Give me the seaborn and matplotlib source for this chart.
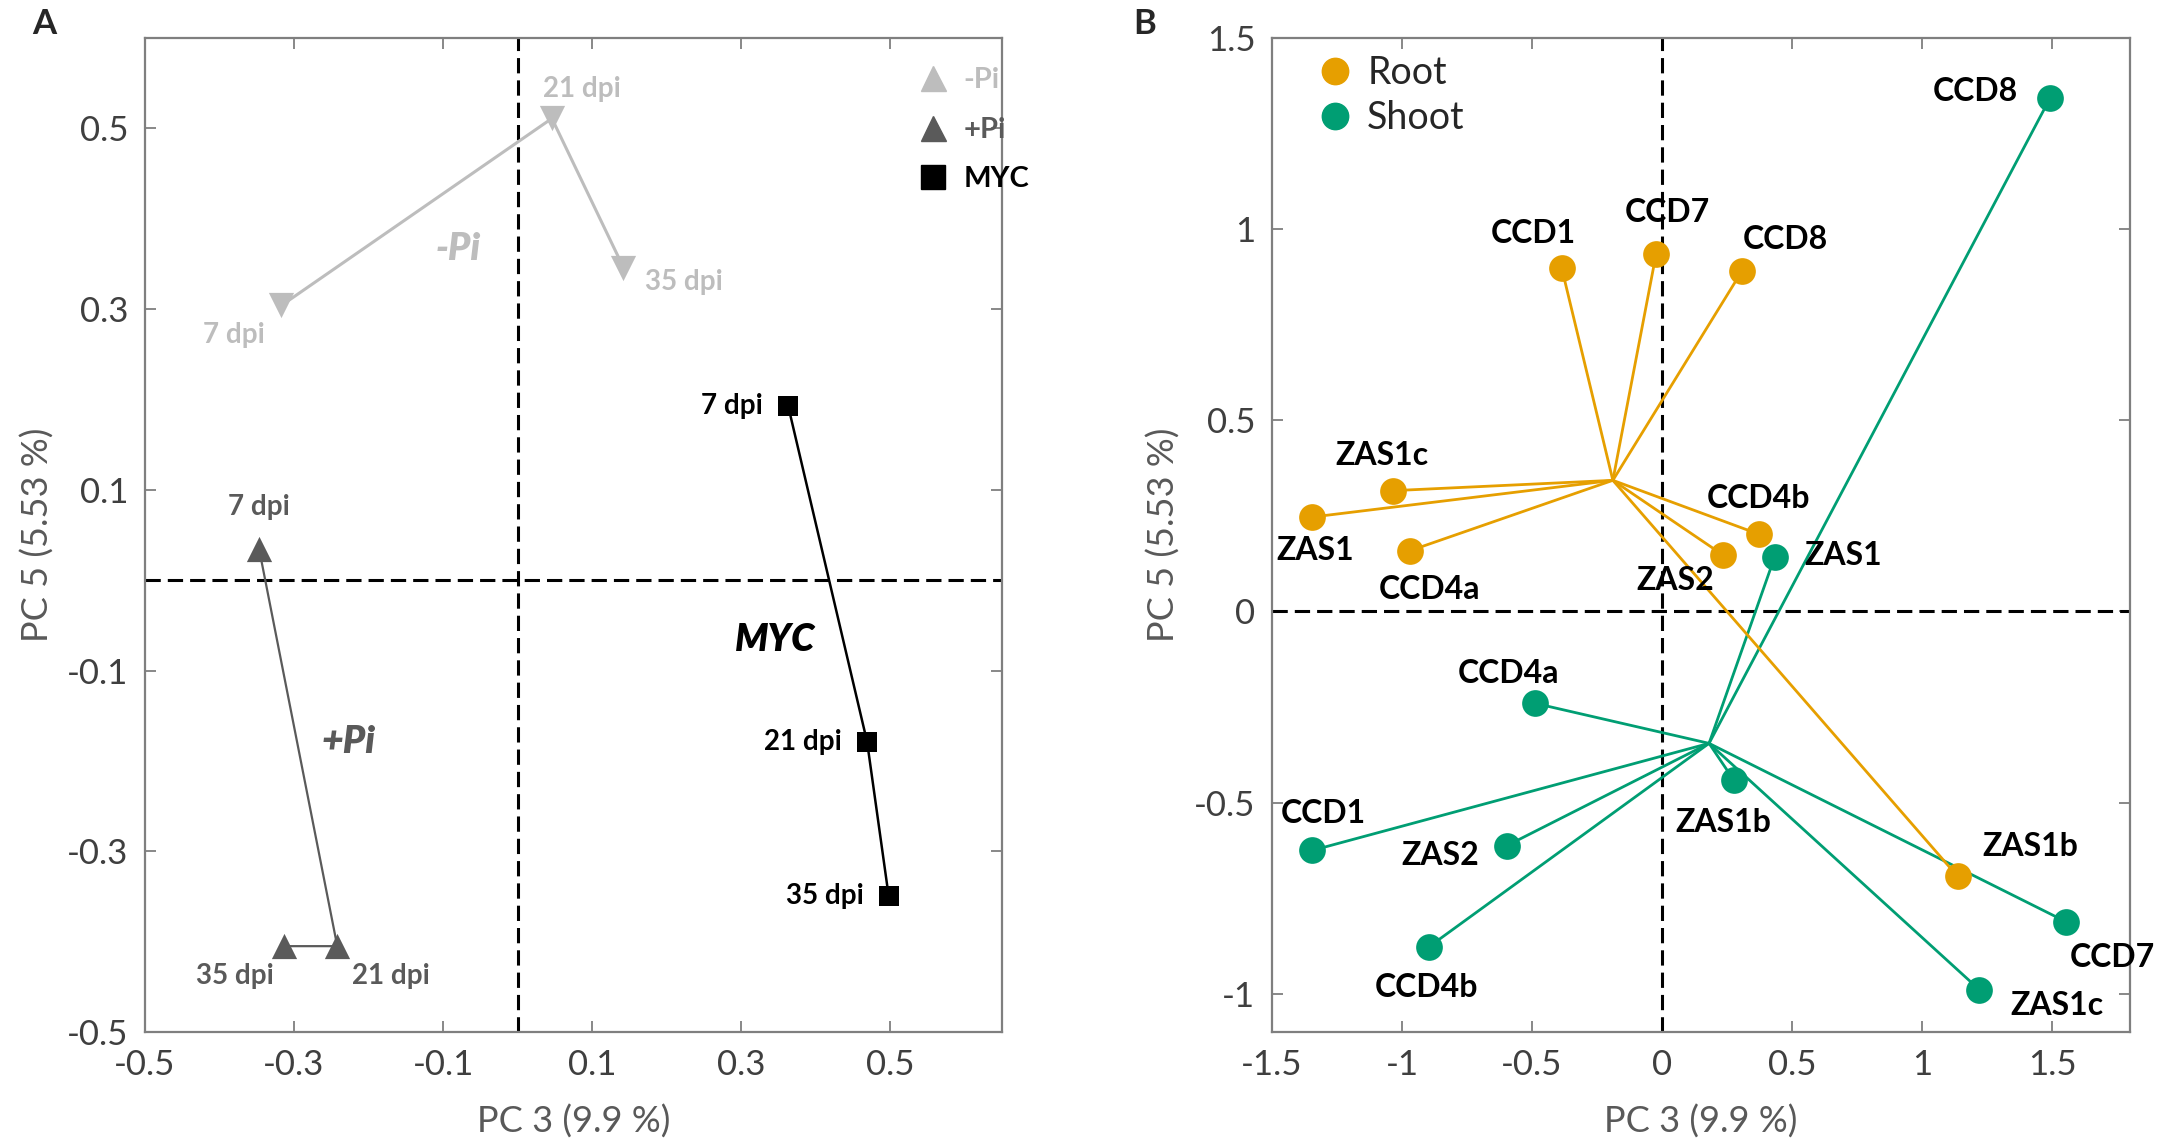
import matplotlib
matplotlib.use("Agg")
import matplotlib.pyplot as plt
import numpy as np
import pandas as pd
import seaborn as sns
from matplotlib.lines import Line2D
from matplotlib.font_manager import FontProperties

sns.set_theme(style="white")
plt.rcParams["font.family"] = ["Lato", "DejaVu Sans"]

# ---------------- Panel A data ----------------
dpi_labels = ["7 dpi", "21 dpi", "35 dpi"]
minus_pi_x = [-0.317, 0.046, 0.142]
minus_pi_y = [0.304, 0.511, 0.346]
plus_pi_x = [-0.347, -0.242, -0.314]
plus_pi_y = [0.035, -0.405, -0.405]
myc_x = [0.363, 0.469, 0.498]
myc_y = [0.193, -0.179, -0.350]
group_names = ["-Pi", "+Pi", "MYC"]
group_label_x = [-0.080, -0.227, 0.345]
group_label_y = [0.367, -0.179, -0.066]

# ---------------- Panel B data ----------------
root_genes = ["CCD1", "CCD7", "CCD8", "ZAS1c", "ZAS1", "CCD4a", "CCD4b", "ZAS2", "ZAS1b"]
root_x = [-0.386, -0.023, 0.308, -1.034, -1.345, -0.969, 0.373, 0.236, 1.137]
root_y = [0.899, 0.934, 0.891, 0.316, 0.247, 0.159, 0.202, 0.147, -0.693]
root_origin = [-0.189, 0.343]

shoot_genes = ["CCD8", "ZAS1", "CCD4a", "ZAS1b", "CCD1", "ZAS2", "CCD4b", "CCD7", "ZAS1c"]
shoot_x = [1.492, 0.433, -0.490, 0.275, -1.345, -0.598, -0.896, 1.552, 1.220]
shoot_y = [1.342, 0.142, -0.240, -0.440, -0.625, -0.613, -0.877, -0.811, -0.989]
shoot_origin = [0.181, -0.345]

# ---------------- styles ----------------
LIGHT = "#BDBDBD"
DARK = "#5A5A5A"
BLACK = "#000000"
ORANGE = "#E69F00"
GREEN = "#009E73"
SPINE = "#7F7F7F"
TICKLAB = "#3F3F3F"
AXLAB = "#595959"
PX = 0.72  # px -> pt at dpi 100

# label offsets (px) for panel A
offA_minus = [(-47, -30), (30, 29), (60, -14)]
offA_plus = [(0, 42), (54, -30), (-49, -30)]
offA_myc = [(-25, 0), (-25, 0), (-25, 0)]
# label offsets (px) for panel B
offB_root = [(-28, 34), (11, 42), (43, 31), (-11, 35), (3, -33), (19, -39), (0, 36), (-48, -25), (73, 30)]
offB_shoot = [(-75, 7), (69, 2), (-26, 30), (-10, -43), (11, 37), (-66, -10), (-3, -41), (47, -36), (78, -16)]

fig = plt.figure(figsize=(21.75, 11.44), dpi=100)
axA = fig.add_axes([145 / 2175, 1 - 1032 / 1144, 857 / 2175, 994 / 1144])
axB = fig.add_axes([1272 / 2175, 1 - 1032 / 1144, 858 / 2175, 994 / 1144])


def style_axes(ax):
    for s in ax.spines.values():
        s.set_color(SPINE)
        s.set_linewidth(1.6)
        s.set_visible(True)
    ax.tick_params(direction="in", length=8, width=1.3, color=SPINE,
                   top=True, right=True, bottom=True, left=True,
                   labelsize=25, labelcolor=TICKLAB, pad=12)
    ax.grid(False)


# ---------------- Panel A ----------------
dfA = pd.DataFrame({
    "x": minus_pi_x + plus_pi_x + myc_x,
    "y": minus_pi_y + plus_pi_y + myc_y,
    "group": [g for g in group_names for _ in range(3)],
    "dpi": dpi_labels * 3,
})
axA.axhline(0, color="black", lw=2.2, ls=(0, (5, 2.3)), zorder=1)
axA.axvline(0, color="black", lw=2.2, ls=(0, (5, 2.3)), zorder=1)

colorsA = {"-Pi": LIGHT, "+Pi": DARK, "MYC": BLACK}
markersA = {"-Pi": "v", "+Pi": "^", "MYC": "s"}
sizesA = {"-Pi": 330, "+Pi": 330, "MYC": 200}
lwA = {"-Pi": 2.2, "+Pi": 1.6, "MYC": 1.8}
for g in group_names:
    sub = dfA[dfA.group == g]
    sns.lineplot(data=sub, x="x", y="y", sort=False, estimator=None,
                 color=colorsA[g], lw=lwA[g], ax=axA, zorder=2, legend=False)
    sns.scatterplot(data=sub, x="x", y="y", marker=markersA[g], s=sizesA[g],
                    color=colorsA[g], edgecolor=colorsA[g], linewidth=0,
                    ax=axA, zorder=3, legend=False)

for g, offs in zip(group_names, [offA_minus, offA_plus, offA_myc]):
    sub = dfA[dfA.group == g]
    for (x, y, t), (dx, dy) in zip(sub[["x", "y", "dpi"]].values, offs):
        axA.annotate(t, (x, y), xytext=(dx * PX, dy * PX), textcoords="offset points",
                     ha="right" if g == "MYC" else "center", va="center",
                     fontsize=20, fontweight="bold", color=colorsA[g], zorder=4)

for g, gx, gy in zip(group_names, group_label_x, group_label_y):
    axA.text(gx, gy, g, fontsize=27, fontweight="heavy", style="italic",
             color=colorsA[g], ha="center", va="center")

axA.set_xlim(-0.5, 0.65)
axA.set_ylim(-0.5, 0.6)
axA.set_xticks([-0.5, -0.3, -0.1, 0.1, 0.3, 0.5])
axA.set_yticks([-0.5, -0.3, -0.1, 0.1, 0.3, 0.5])
axA.set_xticklabels(["-0.5", "-0.3", "-0.1", "0.1", "0.3", "0.5"])
axA.set_yticklabels(["-0.5", "-0.3", "-0.1", "0.1", "0.3", "0.5"])
style_axes(axA)
axA.set_xlabel("PC 3 (9.9 %)", fontsize=26, color=AXLAB)
axA.set_ylabel("PC 5 (5.53 %)", fontsize=26, color=AXLAB)
axA.xaxis.set_label_coords(0.5, -0.073)
axA.yaxis.set_label_coords(-0.105, 0.5)

handlesA = [
    Line2D([], [], ls="none", marker="^", ms=18, color=LIGHT, mec=LIGHT),
    Line2D([], [], ls="none", marker="^", ms=18, color=DARK, mec=DARK),
    Line2D([], [], ls="none", marker="s", ms=17, color=BLACK, mec=BLACK),
]
legfont = FontProperties(family=["Lato", "DejaVu Sans"], weight="bold", size=21)
legA = axA.legend(handlesA, group_names, loc="upper left", bbox_to_anchor=(0.8856, 0.985),
                  frameon=False, borderpad=0, handlelength=1.0, handletextpad=0.55,
                  labelspacing=0.8, prop=legfont)
for t, g in zip(legA.get_texts(), group_names):
    t.set_color(colorsA[g])

# ---------------- Panel B ----------------
def segments(genes, xs, ys, origin, tissue):
    rows = []
    for gname, x, y in zip(genes, xs, ys):
        rows.append({"gene": tissue + gname, "x": origin[0], "y": origin[1]})
        rows.append({"gene": tissue + gname, "x": x, "y": y})
    return pd.DataFrame(rows)

seg_root = segments(root_genes, root_x, root_y, root_origin, "R_")
seg_shoot = segments(shoot_genes, shoot_x, shoot_y, shoot_origin, "S_")
pts_root = pd.DataFrame({"gene": root_genes, "x": root_x, "y": root_y})
pts_shoot = pd.DataFrame({"gene": shoot_genes, "x": shoot_x, "y": shoot_y})

axB.axhline(0, color="black", lw=2.2, ls=(0, (5, 2.3)), zorder=1)
axB.axvline(0, color="black", lw=2.2, ls=(0, (5, 2.3)), zorder=1)

sns.lineplot(data=seg_shoot, x="x", y="y", units="gene", estimator=None, sort=False,
             color=GREEN, lw=2.0, ax=axB, zorder=2, legend=False)
sns.lineplot(data=seg_root, x="x", y="y", units="gene", estimator=None, sort=False,
             color=ORANGE, lw=2.0, ax=axB, zorder=2, legend=False)
sns.scatterplot(data=pts_shoot, x="x", y="y", s=370, color=GREEN, linewidth=0,
                ax=axB, zorder=3, legend=False)
sns.scatterplot(data=pts_root, x="x", y="y", s=370, color=ORANGE, linewidth=0,
                ax=axB, zorder=3, legend=False)

for pts, offs in [(pts_root, offB_root), (pts_shoot, offB_shoot)]:
    for (gname, x, y), (dx, dy) in zip(pts[["gene", "x", "y"]].values, offs):
        axB.annotate(gname, (x, y), xytext=(dx * PX, dy * PX), textcoords="offset points",
                     ha="center", va="center", fontsize=23, fontweight="bold",
                     color="black", zorder=4)

axB.set_xlim(-1.5, 1.8)
axB.set_ylim(-1.1, 1.5)
axB.set_xticks([-1.5, -1, -0.5, 0, 0.5, 1, 1.5])
axB.set_xticklabels(["-1.5", "-1", "-0.5", "0", "0.5", "1", "1.5"])
axB.set_yticks([-1, -0.5, 0, 0.5, 1, 1.5])
axB.set_yticklabels(["-1", "-0.5", "0", "0.5", "1", "1.5"])
style_axes(axB)
axB.set_xlabel("PC 3 (9.9 %)", fontsize=26, color=AXLAB)
axB.set_ylabel("PC 5 (5.53 %)", fontsize=26, color=AXLAB)
axB.xaxis.set_label_coords(0.5, -0.073)
axB.yaxis.set_label_coords(-0.106, 0.5)

handlesB = [
    Line2D([], [], ls="none", marker="o", ms=19, color=ORANGE, mec=ORANGE),
    Line2D([], [], ls="none", marker="o", ms=19, color=GREEN, mec=GREEN),
]
axB.legend(handlesB, ["Root", "Shoot"], loc="upper left", bbox_to_anchor=(0.034, 1.002),
           frameon=False, borderpad=0, handlelength=0.8, handletextpad=0.46,
           labelspacing=0.25, prop={"size": 27})

fig.text(44 / 2175, 1 - 24 / 1144, "A", fontsize=25, fontweight="bold", ha="center", va="center")
fig.text(1145 / 2175, 1 - 24 / 1144, "B", fontsize=25, fontweight="bold", ha="center", va="center")

fig.savefig("out.png", dpi=100)
